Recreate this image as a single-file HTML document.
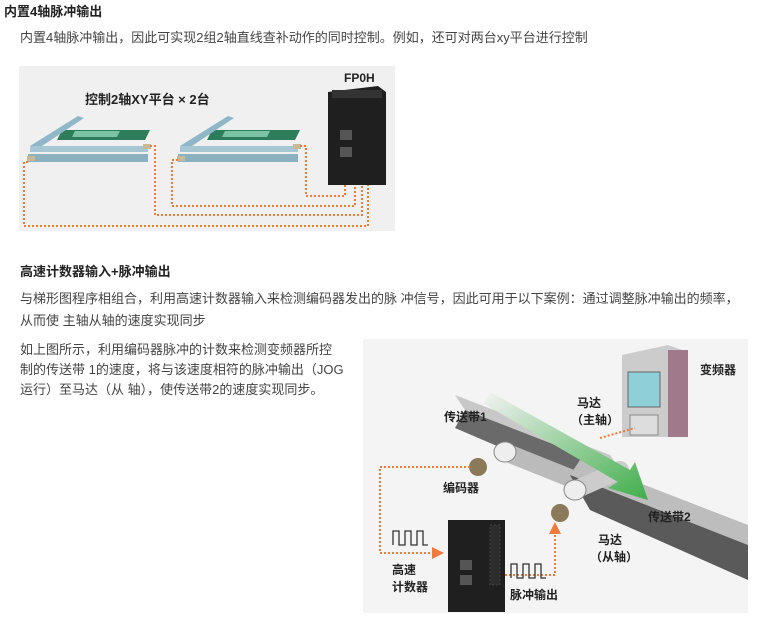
<!DOCTYPE html>
<html><head><meta charset="utf-8"><style>
body{margin:0;width:762px;height:625px;background:#fff;position:relative;overflow:hidden;font-family:"Liberation Sans","Noto Sans CJK SC",sans-serif;color:#444;font-size:13px}
.t{position:absolute;white-space:nowrap;line-height:16px}
.b{font-weight:bold;color:#222}
</style></head><body>
<div class="t b" style="left:4px;top:4px">内置4轴脉冲输出</div>
<div class="t" style="left:20px;top:30px">内置4轴脉冲输出，因此可实现2组2轴直线查补动作的同时控制。例如，还可对两台xy平台进行控制</div>

<svg style="position:absolute;left:19px;top:66px" width="376" height="165" viewBox="19 66 376 165">
<rect x="19" y="66" width="376" height="165" fill="#f0f0f0"/>
<text x="85" y="104" font-size="13" font-weight="bold" fill="#222" font-family="Liberation Sans,Noto Sans CJK SC,sans-serif">控制2轴XY平台  × 2台</text>
<text x="344" y="82" font-size="12" font-weight="bold" fill="#222" font-family="Liberation Sans,sans-serif">FP0H</text>
<g id="tb">
<polygon points="62,130 150,130 145,140 57,140" fill="#2e7d5a"/>
<polygon points="75,131 120,131 117,137 72,137" fill="#7cc3a5"/>
<polygon points="30,146 78,116 84,118 36,150" fill="#8fb7c7"/>
<polygon points="30,146 148,146 148,152 30,152" fill="#a7c6d3"/>
<polygon points="28,154 148,154 148,162 28,162" fill="#8bb0c0"/>
<rect x="143" y="144" width="8" height="5" fill="#c9b896"/>
<rect x="27" y="156" width="8" height="5" fill="#c9b896"/>
</g>
<use href="#tb" transform="translate(150,0)"/>
<polygon points="328,92 378,86 386,92 386,185 328,185" fill="#1f1f1f"/>
<rect x="332" y="90" width="50" height="8" fill="#333"/>
<rect x="340" y="130" width="12" height="10" fill="#555"/>
<rect x="340" y="147" width="12" height="10" fill="#555"/>
<g fill="none" stroke="#ee7a3c" stroke-width="2" stroke-dasharray="2,2">
<path d="M150,146 H155 V215 H362 V185"/>
<path d="M28,162 H24 V226 H368 V185"/>
<path d="M300,146 H306 V196 H345 V185"/>
<path d="M178,160 H172 V206 H355 V185"/>
</g>
</svg>

<div class="t b" style="left:20px;top:264px">高速计数器输入+脉冲输出</div>
<div class="t" style="left:20px;top:291px">与梯形图程序相组合，利用高速计数器输入来检测编码器发出的脉 冲信号，因此可用于以下案例：通过调整脉冲输出的频率，</div>
<div class="t" style="left:20px;top:313px">从而使 主轴从轴的速度实现同步</div>
<div class="t" style="left:20px;top:342px">如上图所示，利用编码器脉冲的计数来检测变频器所控</div>
<div class="t" style="left:20px;top:362px">制的传送带 1的速度，将与该速度相符的脉冲输出（JOG</div>
<div class="t" style="left:20px;top:382px">运行）至马达（从 轴），使传送带2的速度实现同步。</div>

<svg style="position:absolute;left:363px;top:339px" width="385" height="274" viewBox="363 339 385 274" font-family="Liberation Sans,Noto Sans CJK SC,sans-serif" font-size="12" font-weight="bold" fill="#222">
<defs><linearGradient id="g" x1="0" y1="0" x2="1" y2="1"><stop offset="0" stop-color="#f2f2f2"/><stop offset="1" stop-color="#3fae4a"/></linearGradient></defs>
<rect x="363" y="339" width="385" height="274" fill="#f4f4f4"/>
<polygon points="455,395 610,455 620,470 465,410" fill="#c8c8c8"/>
<polygon points="465,410 620,470 600,490 455,428" fill="#6a6a6a"/>
<path d="M505,452 L600,490" stroke="#bbb" stroke-width="18" stroke-linecap="round"/>
<ellipse cx="505" cy="452" rx="11" ry="10" fill="#eee" stroke="#888"/>
<polygon points="580,460 748,525 748,545 570,475" fill="#bdbdbd"/>
<polygon points="570,475 748,545 748,580 590,510" fill="#5a5a5a"/>
<path d="M575,490 L620,470" stroke="#ccc" stroke-width="18" stroke-linecap="round"/>
<ellipse cx="575" cy="490" rx="11" ry="10" fill="#eee" stroke="#888"/>
<polygon points="490,392 630,470 635,462 648,500 608,488 618,482 484,404" fill="url(#g)"/>
<polygon points="622,355 668,345 688,352 688,437 622,437" fill="#ccc"/>
<rect x="668" y="350" width="20" height="87" fill="#a07a8a"/>
<rect x="628" y="372" width="32" height="35" fill="#8ecfd8" stroke="#666"/>
<rect x="630" y="415" width="28" height="20" fill="#ddd" stroke="#888"/>
<ellipse cx="478" cy="467" rx="9" ry="9" fill="#8a7a5a"/>
<ellipse cx="560" cy="513" rx="9" ry="9" fill="#8a7a5a"/>
<rect x="448" y="520" width="57" height="92" fill="#1f1f1f"/>
<rect x="490" y="525" width="10" height="60" fill="#2c2c2c" stroke="#444" stroke-dasharray="2,2"/>
<rect x="460" y="560" width="12" height="10" fill="#555"/>
<rect x="460" y="575" width="12" height="10" fill="#555"/>
<g fill="none" stroke="#ee7a3c" stroke-width="2" stroke-dasharray="2,2">
<path d="M470,467 H380 V553 H432"/>
<path d="M505,575 H555 V532"/>
<path d="M600,438 L635,428"/>
</g>
<polygon points="432,547 444,553 432,559" fill="#ee7a3c"/>
<polygon points="549,534 555,522 561,534" fill="#ee7a3c"/>
<path d="M393,545 v-14 h6 v14 h6 v-14 h6 v14 h6 v-14 h6 v14 h5" fill="none" stroke="#333" stroke-width="1.3"/>
<path d="M511,578 v-14 h6 v14 h6 v-14 h6 v14 h6 v-14 h6 v14 h5" fill="none" stroke="#333" stroke-width="1.3"/>
<text x="700" y="374">变频器</text>
<text x="444" y="421">传送带1</text>
<text x="577" y="407">马达</text>
<text x="571" y="424">（主轴）</text>
<text x="443" y="492">编码器</text>
<text x="648" y="521">传送带2</text>
<text x="598" y="544">马达</text>
<text x="590" y="561">（从轴）</text>
<text x="392" y="574">高速</text>
<text x="392" y="591">计数器</text>
<text x="510" y="599">脉冲输出</text>
</svg>
</body></html>
